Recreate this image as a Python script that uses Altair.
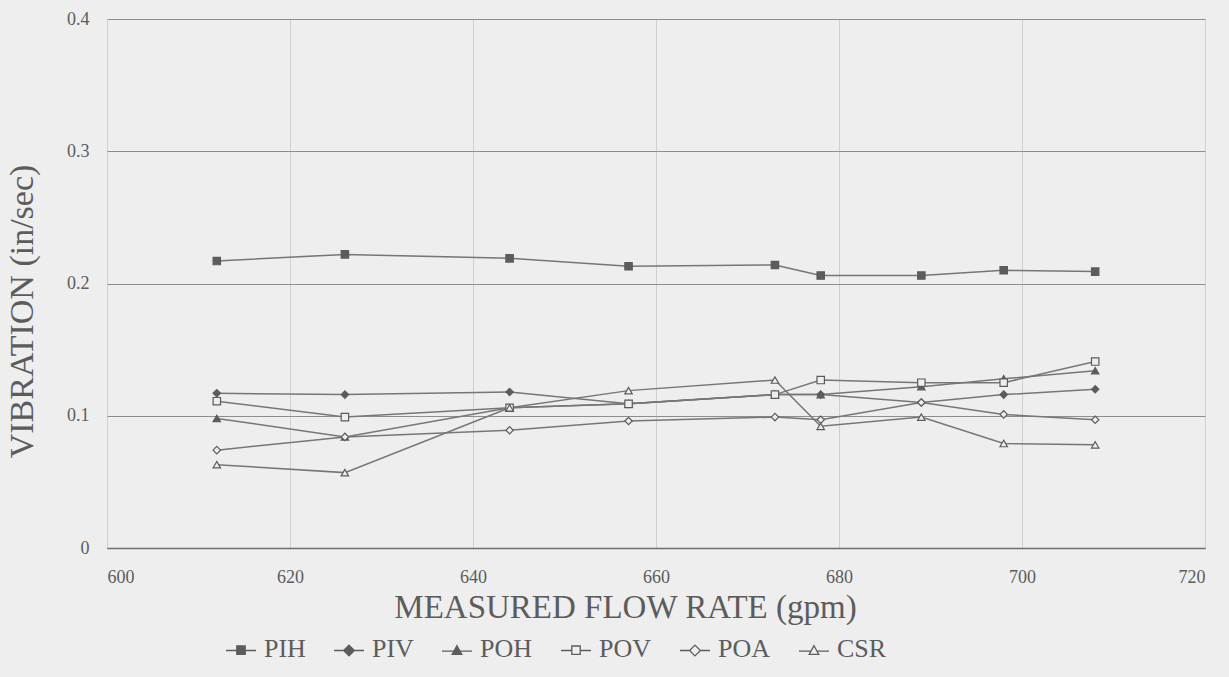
import altair as alt
import pandas as pd

# ---- data ----
flow = [612, 626, 644, 657, 673, 678, 689, 698, 708]
series_names = ["PIH", "PIV", "POH", "POV", "POA", "CSR"]
PIH = [0.217, 0.222, 0.219, 0.213, 0.214, 0.206, 0.206, 0.210, 0.209]
PIV = [0.117, 0.116, 0.118, 0.109, 0.116, 0.116, 0.110, 0.116, 0.120]
POH = [0.098, 0.084, 0.106, 0.109, 0.116, 0.116, 0.122, 0.128, 0.134]
POV = [0.111, 0.099, 0.106, 0.109, 0.116, 0.127, 0.125, 0.125, 0.141]
POA = [0.074, 0.084, 0.089, 0.096, 0.099, 0.097, 0.110, 0.101, 0.097]
CSR = [0.063, 0.057, 0.106, 0.119, 0.127, 0.092, 0.099, 0.079, 0.078]
x_ticks = [600, 620, 640, 660, 680, 700, 720]
y_ticks = [0, 0.1, 0.2, 0.3, 0.4]

rows = []
for name, vals in zip(series_names, [PIH, PIV, POH, POV, POA, CSR]):
    for f, v in zip(flow, vals):
        rows.append({"flow": f, "vib": v, "series": name})
df = pd.DataFrame(rows)

BG = "#eeeeee"
INK = "#5c5c5c"
FONT = "Liberation Serif"

plot_shapes = ["square", "diamond", "triangle-up", "square", "diamond", "triangle-up"]
fills = [INK, INK, INK, BG, BG, BG]
strokes = [INK] * 6
legend_shapes = [
    "M-1,0.1H-0.28M0.28,0.1H1M-0.28,-0.2H0.28V0.36H-0.28Z",
    "M-1,0.1H-0.36M0.36,0.1H1M0,-0.26L0.36,0.1L0,0.46L-0.36,0.1Z",
    "M-1,0.14H-0.2M0.2,0.14H1M0,-0.22L0.32,0.36H-0.32Z",
    "M-1,0.1H-0.28M0.28,0.1H1M-0.28,-0.2H0.28V0.36H-0.28Z",
    "M-1,0.1H-0.36M0.36,0.1H1M0,-0.26L0.36,0.1L0,0.46L-0.36,0.1Z",
    "M-1,0.14H-0.2M0.2,0.14H1M0,-0.22L0.32,0.36H-0.32Z",
]

x_enc = alt.X(
    "flow:Q",
    scale=alt.Scale(domain=[600, 720], nice=False, zero=False),
    axis=alt.Axis(
        values=x_ticks, title="MEASURED FLOW RATE (gpm)", grid=True,
        gridColor="#d0d0d0", gridWidth=1, domainColor="#6e6e6e", domainWidth=1.4,
        ticks=False, labelFont=FONT, labelFontSize=18, labelColor=INK,
        labelPadding=20, titleFont=FONT, titleFontSize=33, titleFontWeight="normal",
        titleColor=INK, titleX=518, titleY=43, titleBaseline="top",
    ),
)
y_enc = alt.Y(
    "vib:Q",
    scale=alt.Scale(domain=[0, 0.4], nice=False),
    axis=alt.Axis(
        values=y_ticks, format="~g", title="VIBRATION (in/sec)", grid=True,
        gridColor="#8e8e8e", gridWidth=1, domain=False, ticks=False,
        labelFont=FONT, labelFontSize=18, labelColor=INK, labelPadding=18,
        titleFont=FONT, titleFontSize=34, titleFontWeight="normal", titleColor=INK,
        titleX=-85, titleY=292, titleBaseline="middle", titleAlign="center",
    ),
)

lines = alt.Chart(df).mark_line(color="#767676", strokeWidth=1.5).encode(
    x=x_enc, y=y_enc, detail="series:N", order="flow:Q"
)

points = alt.Chart(df).mark_point(
    filled=True, stroke=INK, strokeWidth=1.2, size=55, opacity=1
).encode(
    x="flow:Q",
    y="vib:Q",
    shape=alt.Shape("series:N", scale=alt.Scale(domain=series_names, range=plot_shapes), legend=None),
    fill=alt.Fill("series:N", scale=alt.Scale(domain=series_names, range=fills), legend=None),
)

leg = alt.Legend(
    title=None, orient="none", legendX=118, legendY=614, direction="horizontal",
    columns=6, symbolSize=900, symbolStrokeWidth=1.3, symbolStrokeColor=INK,
    labelFont=FONT, labelFontSize=26, labelColor=INK, labelOffset=7,
    columnPadding=25, labelLimit=200,
)

legend_layer = alt.Chart(df).transform_filter("false").mark_point(
    filled=False, strokeWidth=1.3, opacity=1
).encode(
    x="flow:Q",
    y="vib:Q",
    shape=alt.Shape("series:N", scale=alt.Scale(domain=series_names, range=legend_shapes), legend=leg),
    fill=alt.Fill("series:N", scale=alt.Scale(domain=series_names, range=fills), legend=leg),
    stroke=alt.Stroke("series:N", scale=alt.Scale(domain=series_names, range=strokes), legend=leg),
)

chart = (
    alt.layer(lines, points, legend_layer)
    .resolve_scale(shape="independent", fill="independent", stroke="independent")
    .properties(
        width=1098, height=529, background=BG,
        padding={"left": 107, "top": 19, "right": 24, "bottom": 129},
        autosize=alt.AutoSizeParams(type="none"),
    )
    .configure_view(stroke=None)
)

chart.save("out.html", embed_options={"renderer": "svg", "actions": False})
